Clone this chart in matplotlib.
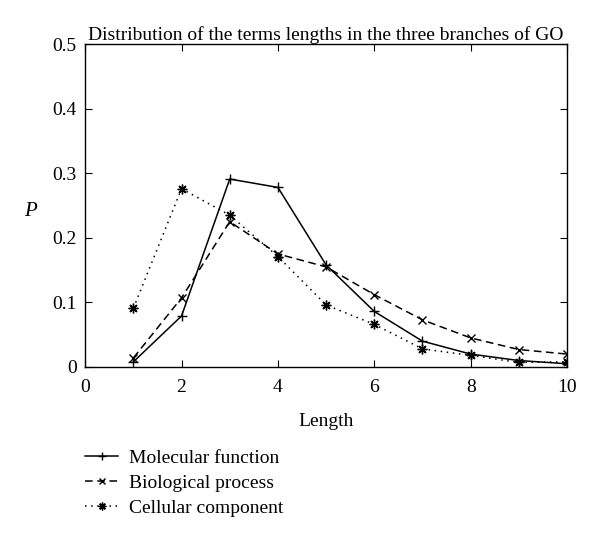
import matplotlib
matplotlib.use('Agg')
import matplotlib.pyplot as plt

plt.rcParams['font.family'] = ['Liberation Serif', 'DejaVu Serif']

lengths = [1, 2, 3, 4, 5, 6, 7, 8, 9, 10]
molecular = [0.008, 0.079, 0.291, 0.278, 0.158, 0.086, 0.040, 0.020, 0.010, 0.005]
biological = [0.014, 0.107, 0.225, 0.175, 0.155, 0.112, 0.073, 0.045, 0.027, 0.020]
cellular = [0.091, 0.276, 0.235, 0.171, 0.096, 0.066, 0.028, 0.018, 0.007, 0.008]
names = ['Molecular function', 'Biological process', 'Cellular component']

fig = plt.figure(figsize=(6, 5.37), dpi=100)
ax = fig.add_axes([0.142, 0.3166, 0.803, 0.6014])

ax.plot(lengths, molecular, color='black', lw=1.1, ls='-', marker='+', ms=7, mew=1, label=names[0])
ax.plot(lengths, biological, color='black', lw=1.1, ls=(0, (5, 3)), marker='x', ms=6, mew=1, label=names[1])
ax.plot(lengths, cellular, color='black', lw=1.1, ls=(0, (1, 3)), marker=(8, 2, 0), ms=7, mew=1, label=names[2])

ax.set_xlim(0, 10)
ax.set_ylim(0, 0.5)
ax.set_xticks([0, 2, 4, 6, 8, 10])
ax.set_yticks([0, 0.1, 0.2, 0.3, 0.4, 0.5])
ax.set_yticklabels(['0', '0.1', '0.2', '0.3', '0.4', '0.5'])
ax.tick_params(direction='in', top=True, right=True, labelsize=14, length=5)
ax.tick_params(axis='x', pad=9)
ax.tick_params(axis='y', pad=6)
for s in ax.spines.values():
    s.set_linewidth(1)

ax.set_xlabel('Length', fontsize=14, labelpad=12)
ax.set_ylabel('P', fontsize=15, style='italic', rotation=0, va='center')
ax.yaxis.set_label_coords(-0.114, 0.48)
ax.set_title('Distribution of the terms lengths in the three branches of GO', fontsize=14, pad=3)

leg = fig.legend(loc='upper left', bbox_to_anchor=(0.142, 0.163), frameon=False, fontsize=14,
                 handlelength=1.7, labelspacing=0.37, handletextpad=0.55, borderaxespad=0,
                 borderpad=0, markerscale=0.8)

fig.savefig('out.png', dpi=100)
